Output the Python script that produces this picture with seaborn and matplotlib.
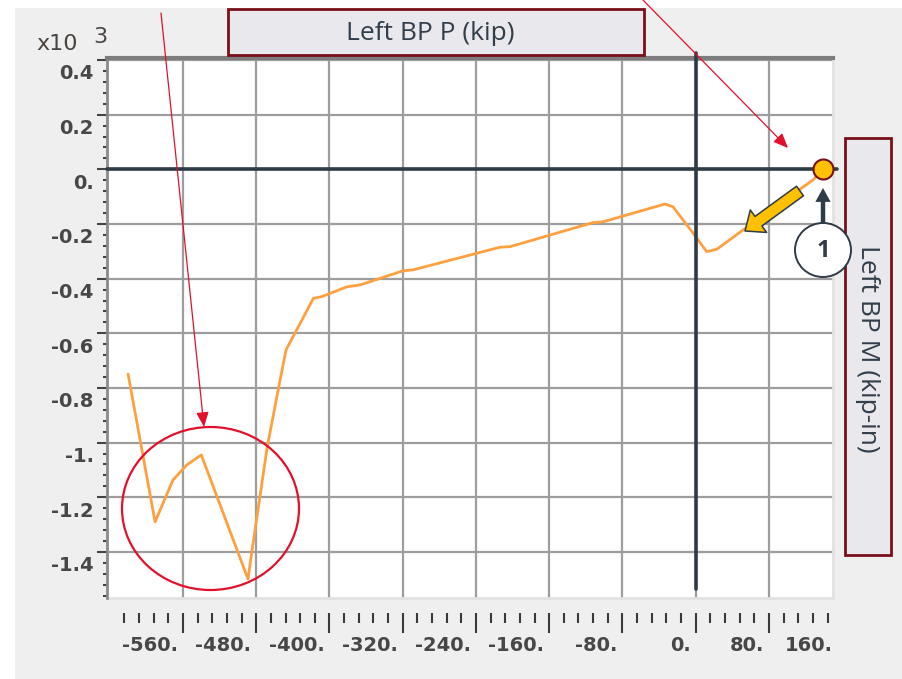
import numpy as np
import pandas as pd
import matplotlib
matplotlib.use("Agg")
import matplotlib.pyplot as plt
import seaborn as sns
from matplotlib.patches import Rectangle, Ellipse, FancyArrowPatch
from matplotlib.transforms import ScaledTranslation
from matplotlib.ticker import MultipleLocator

# ---------------- data ----------------
axial_kip = [-620.0, -590.5, -571.0, -556.0, -540.0, -489.0, -485.0, -468.0,
             -456.0, -447.5, -430.0, -417.6, -408.5, -381.0, -366.6, -319.4,
             -308.8, -213.7, -202.8, -112.2, -101.2, -33.5, -24.8, -2.9,
             12.0, 22.9, 51.7, 128.1, 139.0]
moment_kip_in_x1000 = [-0.749, -1.290, -1.137, -1.082, -1.045, -1.499, -1.404, -1.016,
                       -0.807, -0.661, -0.551, -0.472, -0.466, -0.430, -0.423, -0.371,
                       -0.368, -0.285, -0.283, -0.195, -0.192, -0.127, -0.137, -0.233,
                       -0.301, -0.293, -0.222, -0.039, 0.0]

x_major_ticks = [-560, -480, -400, -320, -240, -160, -80, 0, 80]
x_major_labels = ["-560.", "-480.", "-400.", "-320.", "-240.", "-160.", "-80.", "0.", "80."]
x_last_label = "160."
y_major_ticks = [-1.4, -1.2, -1.0, -0.8, -0.6, -0.4, -0.2, 0.0, 0.2, 0.4]
y_major_labels = ["-1.4", "-1.2", "-1.", "-0.8", "-0.6", "-0.4", "-0.2", "0.", "0.2", "0.4"]

title_top = "Left BP P (kip)"
title_right = "Left BP M (kip-in)"
scale_text = "x10"
scale_exp = "3"
callout = "1"

# ---------------- figure ----------------
sns.set_style("white")
plt.rcParams['font.family'] = ['DejaVu Sans']

W, H = 903, 679
fig = plt.figure(figsize=(W / 100, H / 100), dpi=100, facecolor='white')


def fx(x):
    return x / W


def fy(y):
    return 1 - y / H


tick_font = dict(fontsize=14, weight='bold', color='#474747')

# grey panel
fig.add_artist(Rectangle((fx(15), 0), 1, fy(8), transform=fig.transFigure,
                         fc='#efefef', ec='none', zorder=-5))

ax = fig.add_axes([fx(107), fy(598), fx(833) - fx(107), fy(58) - fy(598)])
ax.set_facecolor('white')

df = pd.DataFrame({"P": axial_kip, "M": moment_kip_in_x1000})
sns.lineplot(data=df, x="P", y="M", ax=ax, color='#ffa040', lw=2.0,
             sort=False, estimator=None, zorder=2.5)

ax.set_xlim(-643, 150)
ax.set_ylim(-1.5685, 0.4073)

# zero axes lines
ax.axhline(0, xmin=0, xmax=1.0055, color='#2f3b47', lw=2.6, clip_on=False, zorder=3)
ax.axvline(0, ymin=0.0167, ymax=1.009, color='#2f3b47', lw=2.6, clip_on=False, zorder=3)

# end point marker
ax.plot([axial_kip[-1]], [moment_kip_in_x1000[-1]], 'o', ms=14.4, mfc='#ffc000',
        mec='#7a0f1a', mew=1.5, clip_on=False, zorder=6)

# grid
ax.grid(True, which='major', color='#9d9d9d', lw=1.6)
ax.set_axisbelow(True)

# spines
ax.spines['top'].set_color('#7d7d7d')
ax.spines['top'].set_linewidth(3.0)
ax.spines['left'].set_color('#8a8a8a')
ax.spines['left'].set_linewidth(2.0)
ax.spines['right'].set_color('#e2e2e2')
ax.spines['right'].set_linewidth(2.0)
ax.spines['bottom'].set_visible(False)
ax.spines['bottom'].set_position(('outward', 10.8))
ax.plot([0, 1], [0, 0], transform=ax.transAxes, color='#e2e2e2', lw=2, clip_on=False, zorder=1)

# x ticks
x_minor_ticks = [v for v in range(-624, 145, 16) if v not in x_major_ticks]
ax.set_xticks(x_major_ticks, x_major_labels)
ax.set_xticks(x_minor_ticks, minor=True)
ax.tick_params(axis='both', which='both', bottom=True, left=True, top=False, right=False)
ax.tick_params(axis='x', which='major', direction='out', length=14.4, width=1.5,
               color='#3a3a3a', pad=2)
ax.tick_params(axis='x', which='minor', direction='out', length=7.2, width=1.5,
               color='#3a3a3a')

# y ticks
ax.set_yticks(y_major_ticks, y_major_labels)
ax.yaxis.set_minor_locator(MultipleLocator(0.04))
ax.tick_params(axis='y', which='major', direction='out', length=7.5, width=1.5,
               color='#444444', pad=2)
ax.tick_params(axis='y', which='minor', direction='out', length=3.2, width=1.5,
               color='#444444')
ax.set_xlabel("")
ax.set_ylabel("")

for lbl in ax.get_yticklabels():
    lbl.set(**tick_font)
    lbl.set_transform(lbl.get_transform() + ScaledTranslation(0, -12 / 100, fig.dpi_scale_trans))
for lbl in ax.get_xticklabels():
    lbl.set(**tick_font)
    lbl.set_ha('right')
    lbl.set_transform(lbl.get_transform() + ScaledTranslation(-5 / 100, 0, fig.dpi_scale_trans))

ax.text(150, -0.0704, x_last_label, transform=ax.get_xaxis_transform(), ha='right',
        va='top', clip_on=False, **tick_font)

# scale text
fig.text(fx(57.5), fy(44), scale_text, ha='center', va='center', fontsize=16, color='#4a4440')
fig.text(fx(100), fy(37), scale_exp, ha='center', va='center', fontsize=16, color='#4a4440')

# title boxes
fig.add_artist(Rectangle((fx(228), fy(55)), fx(644) - fx(228), fy(9) - fy(55),
                         transform=fig.transFigure, fc='#e9e9ed', ec='#7a0f1a', lw=2, zorder=5))
fig.text(fx(430), fy(33), title_top, ha='center', va='center', fontsize=19,
         family='Open Sans', color='#323e4a', zorder=6)
fig.add_artist(Rectangle((fx(845), fy(555)), fx(891) - fx(845), fy(138) - fy(555),
                         transform=fig.transFigure, fc='#e9e9ed', ec='#7a0f1a', lw=2, zorder=5))
fig.text(fx(868), fy(349), title_right, ha='center', va='center', fontsize=19,
         rotation=270, family='Open Sans', color='#323e4a', zorder=6)

# red callouts
red = '#e3102d'
fig.add_artist(FancyArrowPatch((fx(161), fy(13)), (fx(204), fy(427)), transform=fig.transFigure,
                               arrowstyle='-|>,head_length=0.9,head_width=0.38', mutation_scale=10,
                               color=red, lw=0.9, shrinkA=0, shrinkB=0, zorder=7))
fig.add_artist(FancyArrowPatch((fx(643), fy(0)), (fx(788), fy(148)), transform=fig.transFigure,
                               arrowstyle='-|>,head_length=0.9,head_width=0.38', mutation_scale=10,
                               color=red, lw=0.9, shrinkA=0, shrinkB=0, zorder=7))
fig.add_artist(Ellipse((fx(210.5), fy(508.5)), 177 / W, 163 / H, transform=fig.transFigure,
                       fc='none', ec=red, lw=1.6, zorder=7))

# yellow block arrow
fig.add_artist(FancyArrowPatch((fx(800), fy(191)), (fx(745), fy(231)), transform=fig.transFigure,
                               arrowstyle='simple,head_length=12,head_width=20,tail_width=8.5',
                               mutation_scale=1, fc='#ffc000', ec='#2f3b47', lw=1.1,
                               shrinkA=0, shrinkB=0, zorder=7))
# dark up arrow
fig.add_artist(FancyArrowPatch((fx(823), fy(224)), (fx(823), fy(188)), transform=fig.transFigure,
                               arrowstyle='simple,head_length=10,head_width=11,tail_width=3.2',
                               mutation_scale=1, fc='#2f3b47', ec='none', lw=0,
                               shrinkA=0, shrinkB=0, zorder=7))
# numbered circle
fig.add_artist(Ellipse((fx(823), fy(250)), 56 / W, 54 / H, transform=fig.transFigure,
                       fc='white', ec='#2f3b47', lw=1.4, zorder=8))
fig.text(fx(823), fy(251), callout, ha='center', va='center', fontsize=17,
         family='Open Sans', weight='bold', color='#2f3b47', zorder=9)

fig.savefig("out.png", dpi=100)
